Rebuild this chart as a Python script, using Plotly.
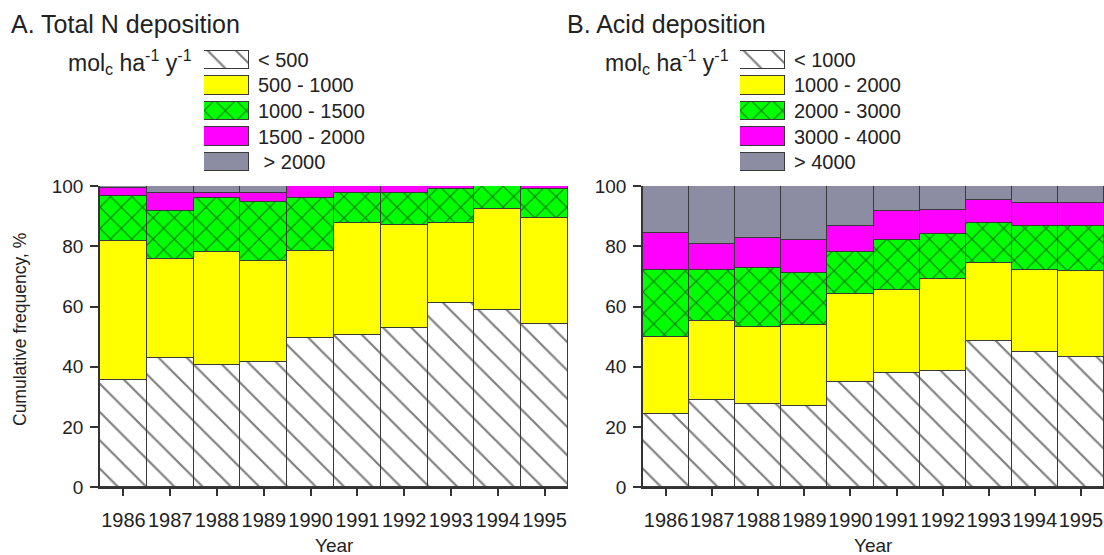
import plotly.graph_objects as go

W, H = 1104, 555

years = ["1986", "1987", "1988", "1989", "1990", "1991", "1992", "1993", "1994", "1995"]

# A. Total N deposition - cumulative upper bounds (%) of each class
n_labels = ["< 500", "500 - 1000", "1000 - 1500", "1500 - 2000", "\u00a0> 2000"]
n_lt500 = [35.6, 43.0, 40.7, 41.5, 49.5, 50.7, 52.9, 61.2, 58.8, 54.2]
n_to1000 = [81.7, 75.8, 78.0, 75.0, 78.3, 87.7, 87.1, 87.6, 92.5, 89.5]
n_to1500 = [96.8, 91.6, 96.0, 94.8, 96.1, 97.7, 97.7, 98.9, 100.0, 99.0]
n_to2000 = [99.2, 97.7, 97.7, 97.7, 100.0, 100.0, 100.0, 100.0, 100.0, 100.0]
n_total = [100.0, 100.0, 100.0, 100.0, 100.0, 100.0, 100.0, 100.0, 100.0, 100.0]

# B. Acid deposition - cumulative upper bounds (%)
a_labels = ["< 1000", "1000 - 2000", "2000 - 3000", "3000 - 4000", "> 4000"]
a_lt1000 = [24.2, 28.9, 27.7, 27.1, 34.9, 37.8, 38.7, 48.5, 44.9, 43.3]
a_to2000 = [49.9, 55.1, 53.3, 53.9, 64.3, 65.4, 69.1, 74.4, 72.0, 71.9]
a_to3000 = [72.1, 72.1, 72.8, 71.2, 78.2, 82.0, 84.0, 87.8, 86.7, 86.7]
a_to4000 = [84.3, 80.7, 82.7, 82.2, 86.7, 91.6, 91.9, 95.3, 94.4, 94.5]
a_total = [100.0, 100.0, 100.0, 100.0, 100.0, 100.0, 100.0, 100.0, 100.0, 100.0]


def px(x):
    return x / W


def py(y):
    return 1 - y / H


def steps(cum):
    out = []
    prev = [0.0] * len(cum[0])
    for c in cum:
        out.append([round(b - a, 2) for a, b in zip(prev, c)])
        prev = c
    return out


OUTLINE = "#3a3a3a"
GRAY = "#8c8ca2"
styles = [
    dict(color="white", pattern=dict(shape="\\", bgcolor="white", fgcolor="#000000", size=20, solidity=0.11)),
    dict(color="#ffff00", pattern=dict(shape="")),
    dict(color="#00ff00", pattern=dict(shape="x", bgcolor="#00ff00", fgcolor="#111111", size=15, solidity=0.16)),
    dict(color="#ff00ff", pattern=dict(shape="")),
    dict(color=GRAY, pattern=dict(shape="")),
]

fig = go.Figure()

panels = [
    ("x", "y", "x3", "y3", n_labels, steps([n_lt500, n_to1000, n_to1500, n_to2000, n_total])),
    ("x2", "y2", "x4", "y4", a_labels, steps([a_lt1000, a_to2000, a_to3000, a_to4000, a_total])),
]

for xa, ya, lxa, lya, labels, parts in panels:
    for st, lab, vals in zip(styles, labels, parts):
        fig.add_trace(go.Bar(
            x=years, y=vals, xaxis=xa, yaxis=ya, width=1.0,
            marker=dict(color=st["color"], pattern=st["pattern"],
                        line=dict(color=OUTLINE, width=1)),
            showlegend=False, hoverinfo="skip",
        ))
        # legend swatch
        fig.add_trace(go.Bar(
            x=[1], y=[lab], orientation="h", xaxis=lxa, yaxis=lya, width=0.72,
            marker=dict(color=st["color"], pattern=st["pattern"],
                        line=dict(color=OUTLINE, width=1)),
            showlegend=False, hoverinfo="skip",
        ))

font = "Liberation Sans, Arial, sans-serif"
tickfont = dict(family=font, size=19, color="#222222")

xcommon = dict(type="category", range=[-0.5, 9.5], ticks="outside", ticklen=7, tickwidth=1.5,
               tickcolor="#333333", showline=True, linecolor="#333333", linewidth=1.5,
               showgrid=False, zeroline=False, tickfont=dict(tickfont, size=20),
               tickangle=0, ticklabelstandoff=7, automargin=False)
ycommon = dict(range=[0, 100], dtick=20, ticks="outside", ticklen=8, tickwidth=1.5,
               tickcolor="#333333", showline=True, linecolor="#333333", linewidth=1.5,
               showgrid=False, zeroline=False, tickfont=tickfont, ticklabelstandoff=3,
               automargin=False)

ydom = [py(487.3), py(186)]
legdom = [py(175), py(47)]
legfont = dict(family=font, size=20, color="#222222")
legy = dict(domain=legdom, side="right", autorange="reversed", automargin=False,
            showline=False, showgrid=False, zeroline=False, ticks="",
            tickfont=legfont, ticklabelstandoff=8)

fig.update_layout(
    width=W, height=H,
    margin=dict(l=0, r=0, t=0, b=0),
    paper_bgcolor="white", plot_bgcolor="white",
    barmode="stack", bargap=0,
    font=dict(family=font, color="#222222"),
    xaxis=dict(xcommon, domain=[px(100), px(568)], anchor="y"),
    yaxis=dict(ycommon, domain=ydom, anchor="x"),
    xaxis2=dict(xcommon, domain=[px(643), px(1104)], anchor="y2"),
    yaxis2=dict(ycommon, domain=ydom, anchor="x2"),
    xaxis3=dict(domain=[px(204), px(249)], range=[0, 1], visible=False, anchor="y3", automargin=False),
    yaxis3=dict(legy, anchor="x3"),
    xaxis4=dict(domain=[px(740), px(785)], range=[0, 1], visible=False, anchor="y4", automargin=False),
    yaxis4=dict(legy, anchor="x4"),
)

ann_font = dict(family=font, size=23, color="#222222")
title_font = dict(family=font, size=25, color="#222222")
unit = "mol<sub>c</sub> ha<sup>-1</sup> y<sup>-1</sup>"
annotations = [
    dict(text="A. Total N deposition", x=px(9), y=py(24), xanchor="left", yanchor="middle",
         font=title_font),
    dict(text="B. Acid deposition", x=px(565), y=py(24), xanchor="left", yanchor="middle",
         font=title_font),
    dict(text=unit, x=px(194), y=py(62), xanchor="right", yanchor="middle", font=ann_font),
    dict(text=unit, x=px(731), y=py(62), xanchor="right", yanchor="middle", font=ann_font),
    dict(text="Cumulative frequency, %", x=px(20), y=py(330), textangle=-90,
         xanchor="center", yanchor="middle", font=dict(family=font, size=17.5, color="#222222")),
    dict(text="Year", x=px(334), y=py(545), xanchor="center", yanchor="middle",
         font=dict(family=font, size=19, color="#222222")),
    dict(text="Year", x=px(873), y=py(545), xanchor="center", yanchor="middle",
         font=dict(family=font, size=19, color="#222222")),
]
for a in annotations:
    a.update(xref="paper", yref="paper", showarrow=False)
fig.update_layout(annotations=annotations)

# drop the default 8px body margin so the figure fills the window exactly
fig.write_html("out.html", config={"displayModeBar": False},
               post_script="document.body.style.margin='0';")
